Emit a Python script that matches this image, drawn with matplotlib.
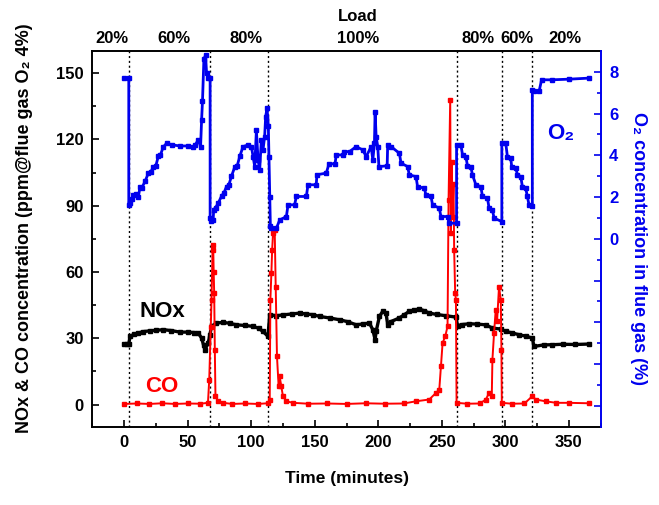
import matplotlib
matplotlib.use("Agg")
import matplotlib.pyplot as plt
from matplotlib.ticker import MultipleLocator, FixedLocator, FuncFormatter

plt.rcParams['font.family'] = ['Liberation Sans', 'DejaVu Sans']
plt.rcParams['font.weight'] = 'bold'

# ---------------- data ----------------
o2_time = [0, 3.7, 3.7, 4.7, 6, 7.3, 9, 11.2, 12.6, 14, 16.5, 19.1, 21, 23, 25, 26.9, 28.5, 30.8,
           33.5, 38, 44, 50, 54.4, 56, 58.3, 60.2, 61, 61.7, 62.8, 64.1, 64.9, 66.2, 67.7, 67.7,
           68.5, 70.1, 70.5, 72, 74, 76.7, 78.5, 80.6, 82.5, 84.5, 87.1, 89, 91, 93.6, 97.6, 100.2,
           101.5, 102.8, 104.1, 105.4, 106.7, 108, 109.3, 110.6, 111.4, 112.5, 113.5, 114, 114.6,
           115.1, 115.9, 119.8, 122.4, 127.7, 129, 134.2, 135.5, 143.4, 144.7, 151.2, 151.7, 159.1,
           161.2, 166, 166.9, 172.1, 173, 177.4, 182.6, 187.8, 190.5, 194.4, 195.7, 197, 197.5,
           198.3, 199.6, 200.5, 207, 207.4, 210.1, 216.6, 217.9, 223.1, 224.4, 229.7, 230.9, 236.2,
           237.5, 241.5, 242.7, 248, 249.3, 254.5, 255.8, 261.6, 261.6, 265, 266.3, 268.9, 270.2,
           272.8, 274.1, 276.8, 280.7, 282, 285.9, 287.2, 289.8, 291.1, 297.2, 297.2, 300.3, 301.6,
           304.2, 305, 308.2, 309.5, 312.1, 313.4, 316, 317.3, 318.6, 321.2, 321.2, 322.5, 326.5,
           328.5, 336.9, 350, 365.7]
o2_value = [7.7, 7.7, 1.6, 1.7, 1.9, 2.1, 2.15, 2.0, 2.5, 2.45, 2.75, 3.15, 3.2, 3.45, 3.5, 3.95, 4.0, 4.4,
            4.58, 4.5, 4.45, 4.45, 4.42, 4.5, 4.74, 4.42, 5.7, 6.6, 8.6, 8.8, 7.95, 7.7, 7.7, 1.0,
            0.85, 0.9, 1.4, 1.5, 1.7, 2.05, 2.2, 2.5, 2.6, 3.0, 3.45, 3.5, 3.95, 4.42, 4.5, 4.42,
            3.94, 3.46, 5.2, 3.8, 3.3, 4.74, 4.26, 4.9, 5.86, 6.26, 5.4, 3.94, 2.0,
            0.6, 0.5, 0.5, 0.9, 1.07, 1.63, 1.63, 2.03, 2.03, 2.59, 2.59, 3.07, 3.15,
            3.59, 3.6, 4.02, 4.02, 4.18, 4.18, 4.42, 4.26, 3.94, 4.42, 3.78, 4.58, 6.1,
            4.9, 4.42, 3.46, 3.5, 4.5, 4.42, 4.1, 3.63, 3.46, 3.07, 2.98, 2.5, 2.43,
            2.11, 2.03, 1.63, 1.47, 1.07, 1.07, 0.75, 0.75, 4.5, 4.5, 4.02, 3.94, 3.5,
            3.46, 3.07, 2.59, 2.5, 2.03, 1.95, 1.47, 1.39, 0.99, 0.83, 4.58, 4.58, 3.94,
            3.87, 3.46, 3.39, 3.07, 2.98, 2.5, 2.43, 2.03, 1.63, 1.55, 7.14, 7.06, 7.06,
            7.62, 7.62, 7.65, 7.7]

nox_time = [0, 2, 3.7, 4.7, 8, 11.2, 15, 20.4, 25, 30.9, 37, 44, 50, 55, 58.3, 61, 62.5, 63.6, 66.2,
            67.5, 68.8, 72.7, 78, 83, 88.4, 95, 101.5, 106, 109.3, 113.2, 114.6, 119.8, 125, 132,
            138.1, 143, 148.6, 153.8, 161.7, 169.5, 176, 182.6, 188, 193, 195.7, 197.5, 198.3,
            200.9, 203.5, 206.1, 207.4, 210.1, 216.6, 220, 224.4, 228, 232.3, 236, 240.1, 246,
            253.2, 261.1, 262.4, 266, 271.5, 278, 284.6, 289.8, 296.4, 300.3, 305, 310.8, 316,
            321.2, 322.5, 330, 336.9, 345, 355, 365.7]
nox_value = [27.4, 27.4, 27.5, 30.9, 31.8, 32.4, 33, 33.4, 33.6, 33.9, 33.5, 32.8, 32.8, 32.6, 32.4,
             30.1, 27, 24.8, 27.9, 31.6, 35.4, 36.9, 37.2, 36.8, 36.1, 35.8, 35.4, 34.5, 33.1, 30.9,
             40.7, 40.2, 40.6, 41, 41.4, 41, 40.7, 39.9, 39.2, 38.4, 37.5, 36.1, 36.5, 36.9, 33.9,
             29.4, 33.1, 39.9, 42.2, 41.4, 36.1, 37.6, 39.2, 40.5, 42.2, 42.8, 43.2, 42.5, 41.4,
             40.8, 40.2, 39.6, 35.7, 36.2, 36.6, 36.4, 36.1, 34.6, 34.2, 33.1, 32.5, 31.6, 31,
             30.1, 26.3, 27, 27.1, 27.3, 27.2, 27.4]

co_time = [0, 10, 20, 30, 40, 50, 60, 66, 67, 68.2, 68.8, 69.6, 70.1, 70.5, 70.9, 71.4, 71.9, 74, 78,
           85, 95, 105, 113, 114.6, 115.1, 115.9, 116.5, 117.2, 118.5, 119.3, 120.3, 121.6, 122.4,
           123.7, 125, 127.7, 133, 145, 160, 175, 190, 205, 220, 229.7, 240.1, 245.4, 248, 249.3,
           250.6, 252.7, 254.5, 255.3, 256.6, 257.1, 257.8, 258.4, 259.2, 259.7, 260.5, 261.1,
           261.6, 270, 280, 284.6, 287.2, 289.3, 289.8, 291.1, 292.4, 293.5, 295, 296.4, 296.9,
           297.2, 305, 315, 321.2, 323.8, 331.6, 340, 350, 365.7]
co_value = [0.3, 0.5, 0.3, 0.6, 0.3, 0.5, 0.4, 0.8, 11.3, 35, 47.4, 70, 72.3, 60, 50.5, 24.8, 3.8, 1.5,
            0.8, 0.3, 0.5, 0.3, 0.6, 2.3, 47.4, 59.5, 70, 77.6, 79, 53.4, 21.8, 8.3, 12.8, 8.3, 3.8,
            1.5, 0.8, 0.4, 0.5, 0.3, 0.6, 0.4, 0.5, 1.5, 2.3, 5.3, 6.8, 17.3, 27.9, 30.9, 35.4,
            92.6, 138, 77.6, 110, 85.1, 100, 70, 50.5, 47.4, 0.8, 0.4, 0.5, 2.3, 5.3, 3.8, 20.3,
            32.4, 42.9, 38, 53.4, 47.4, 24.8, 0.8, 0.4, 0.5, 3.8, 2.3, 1.5, 0.8, 0.8, 0.6]

change_times = [3.7, 67.7, 113.5, 261.6, 297.2, 321.2]
load_labels = ['20%', '60%', '80%', '100%', '80%', '60%', '20%']
load_label_x = [-9.4, 38.9, 95.9, 184, 278.5, 308.9, 346.8]

x_ticks = [0, 50, 100, 150, 200, 250, 300, 350]
left_ticks = [0, 30, 60, 90, 120, 150]
right_ticks = [-8, -6, -4, -2, 0, 2, 4, 6, 8]

# ---------------- figure ----------------
W, H = 659, 505
fig = plt.figure(figsize=(W / 100, H / 100), dpi=100)
L, R, T, B = 92.3, 600.7, 51, 426.7
ax = fig.add_axes([L / W, 1 - B / H, (R - L) / W, (B - T) / H])
ax2 = ax.twinx()

blue = '#0000ee'
red = '#ff0000'

for t in change_times:
    ax.axvline(t, color='black', ls=(0, (1.5, 2)), lw=1.0, zorder=1)

ax.plot(nox_time, nox_value, color='black', lw=2.4, marker='s', ms=3.5, zorder=3)
ax.plot(co_time, co_value, color=red, lw=1.4, marker='s', ms=3, zorder=4)
ax2.plot(o2_time, o2_value, color=blue, lw=2.0, marker='s', ms=3.5, zorder=3)

ax.set_xlim(-25, 375)
ax.set_ylim(-10, 160)
ax2.set_ylim(-9, 9)

ax.xaxis.set_major_locator(FixedLocator(x_ticks))
ax.xaxis.set_minor_locator(MultipleLocator(25))
ax.yaxis.set_major_locator(FixedLocator(left_ticks))
ax.yaxis.set_minor_locator(MultipleLocator(15))
ax2.yaxis.set_major_locator(FixedLocator(right_ticks))
ax2.yaxis.set_minor_locator(FixedLocator([-7, -5, -3, -1, 1, 3, 5, 7]))
ax2.yaxis.set_major_formatter(FuncFormatter(lambda v, p: f'{int(v)}' if v >= 0 else ''))

ax.tick_params(axis='both', which='major', direction='in', length=5, width=1.2,
               labelsize=12, pad=6, top=False, right=False)
ax.tick_params(axis='both', which='minor', direction='in', length=3, width=1.2,
               top=False, right=False)
ax2.tick_params(axis='y', which='major', direction='in', length=5, width=1.2,
                labelsize=12, pad=6, colors=blue)
ax2.tick_params(axis='y', which='minor', direction='in', length=3, width=1.2, colors=blue)

for s in ['left', 'bottom', 'top']:
    ax.spines[s].set_linewidth(1.4)
ax.spines['right'].set_visible(False)
for s in ['left', 'bottom', 'top']:
    ax2.spines[s].set_visible(False)
ax2.spines['right'].set_color(blue)
ax2.spines['right'].set_linewidth(1.4)

for lab in ax.get_xticklabels() + ax.get_yticklabels() + ax2.get_yticklabels():
    lab.set_fontweight('bold')

# axis labels
fig.text(25 / W, 1 - 228 / H, 'NOx & CO concentration (ppm@flue gas O₂ 4%)',
         rotation=90, ha='center', va='center', fontsize=13, fontweight='bold')
fig.text(638 / W, 1 - 248 / H, 'O₂ concentration in flue gas (%)', color=blue,
         rotation=270, ha='center', va='center', fontsize=13, fontweight='bold')
fig.text(347 / W, 1 - 478 / H, 'Time (minutes)', ha='center', va='center',
         fontsize=12.5, fontweight='bold')

# load labels on top
ax.text(184, 1.0905, 'Load', transform=ax.get_xaxis_transform(), ha='center', va='center',
        fontsize=12, fontweight='bold')
for x, s in zip(load_label_x, load_labels):
    ax.text(x, 1.0346, s, transform=ax.get_xaxis_transform(), ha='center', va='center',
            fontsize=12, fontweight='bold')

# series annotations
ax.text((162 - 124) / 1.2743, 42, 'NOx', ha='center', va='center',
        fontsize=16, fontweight='bold', color='black')
ax.text((162 - 124) / 1.2743, 8, 'CO', ha='center', va='center',
        fontsize=16, fontweight='bold', color=red)
ax2.text((562 - 124) / 1.2743, 5.05, 'O₂', ha='center', va='center',
         fontsize=16, fontweight='bold', color=blue)

fig.savefig('out.png', dpi=100)
